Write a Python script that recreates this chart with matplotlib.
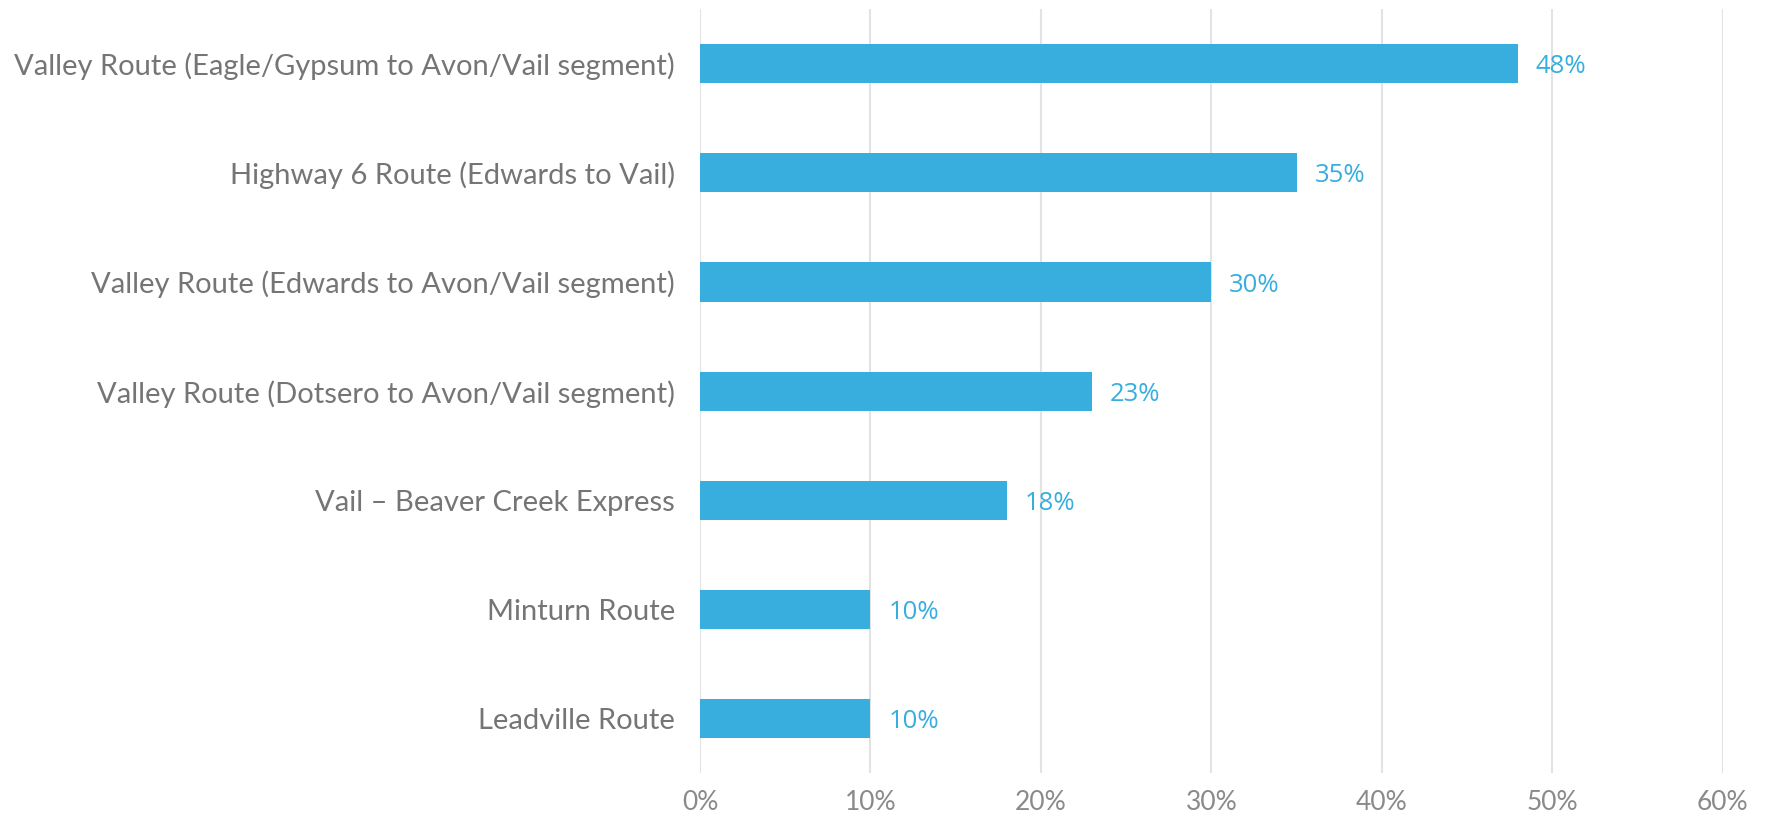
import matplotlib.pyplot as plt
from matplotlib.ticker import PercentFormatter

# Share of riders by route
routes = [
    "Valley Route (Eagle/Gypsum to Avon/Vail segment)",
    "Highway 6 Route (Edwards to Vail)",
    "Valley Route (Edwards to Avon/Vail segment)",
    "Valley Route (Dotsero to Avon/Vail segment)",
    "Vail \u2013 Beaver Creek Express",
    "Minturn Route",
    "Leadville Route",
]
shares = [48, 35, 30, 23, 18, 10, 10]
x_ticks = [0, 10, 20, 30, 40, 50, 60]

bar_color = "#38AEDF"
text_gray = "#757575"

fig = plt.figure(figsize=(17.66, 8.21), dpi=100)
ax = fig.add_axes([0.3964, 0.058, 0.579, 0.931])

bars = ax.barh(routes, shares, height=0.36, color=bar_color, zorder=3)
ax.set_ylim(6.5, -0.5)
ax.set_xlim(0, 60)
ax.set_xticks(x_ticks)
ax.xaxis.set_major_formatter(PercentFormatter(decimals=0))

ax.grid(axis="x", color="#E3E3E3", linewidth=1.5, zorder=0)
for s in ax.spines.values():
    s.set_visible(False)
ax.tick_params(axis="both", length=0)
ax.tick_params(axis="y", pad=18, labelsize=21, labelcolor=text_gray)
ax.tick_params(axis="x", pad=12, labelsize=19, labelcolor="#8A8A8A")
for lab in ax.get_yticklabels() + ax.get_xticklabels():
    lab.set_family("Lato")

# value labels at bar ends
for bar, v in zip(bars, shares):
    ax.text(v + 1.05, bar.get_y() + bar.get_height() / 2, f"{v}%",
            va="center_baseline", ha="left", color=bar_color, fontsize=18.5,
            family="Open Sans")

fig.savefig("out.png", dpi=100)
